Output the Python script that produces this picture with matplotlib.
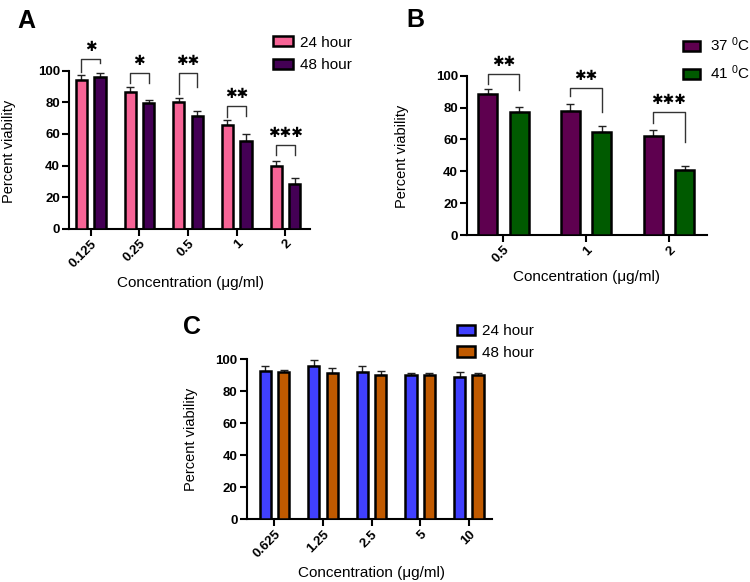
import numpy as np
import matplotlib
matplotlib.use('Agg')
import matplotlib.pyplot as plt

plt.rcParams['font.family'] = ['Liberation Sans', 'DejaVu Sans']
plt.rcParams['mathtext.fontset'] = 'custom'
plt.rcParams['mathtext.rm'] = 'Liberation Sans'

# panel A: 24 h vs 48 h
conc_a = ['0.125', '0.25', '0.5', '1', '2']
a_24h = [93.9, 86.7, 80.2, 65.6, 39.5]
a_24h_err = [3.2, 2.8, 2.7, 3.0, 3.1]
a_48h = [96.0, 79.6, 71.5, 55.3, 28.3]
a_48h_err = [2.7, 1.7, 3.0, 4.6, 3.6]
sig_a = ['*', '*', '**', '**', '***']
brk_top_a = [107.4, 98.7, 98.7, 77.7, 53.0]
brk_left_a = [99.4, 92.4, 85.1, 70.5, 46.6]
brk_right_a = [104.7, 92.4, 89.5, 71.3, 46.6]

# panel B: 37 C vs 41 C
conc_b = ['0.5', '1', '2']
b_37 = [88.7, 78.1, 62.2]
b_37_err = [2.7, 4.1, 3.4]
b_41 = [77.2, 64.7, 40.5]
b_41_err = [3.1, 4.0, 3.1]
sig_b = ['**', '**', '***']
brk_top_b = [101.2, 92.3, 77.2]
brk_left_b = [95.0, 87.0, 70.0]
brk_right_b = [91.2, 77.2, 58.2]

# panel C: 24 h vs 48 h
conc_c = ['0.625', '1.25', '2.5', '5', '10']
c_24h = [92.3, 95.4, 91.7, 89.8, 88.9]
c_24h_err = [3.1, 4.2, 4.1, 1.2, 3.0]
c_48h = [91.9, 91.5, 90.2, 90.0, 89.8]
c_48h_err = [1.4, 3.1, 2.1, 1.0, 1.7]

OFF = 0.19
W = 0.23


def panel(ax, cats, v1, e1, v2, e2, col1, col2, lab1, lab2, xlim):
    x = np.arange(len(cats))
    ax.bar(x - OFF, v1, W, color=col1, edgecolor='black', linewidth=1.8, label=lab1, zorder=3)
    ax.bar(x + OFF, v2, W, color=col2, edgecolor='black', linewidth=1.8, label=lab2, zorder=3)
    ax.errorbar(x - OFF, v1, yerr=[np.zeros(len(cats)), e1], fmt='none', ecolor='#222222',
                elinewidth=1, capsize=2.7, capthick=1, zorder=2)
    ax.errorbar(x + OFF, v2, yerr=[np.zeros(len(cats)), e2], fmt='none', ecolor='#222222',
                elinewidth=1, capsize=2.7, capthick=1, zorder=2)
    ax.set_xlim(*xlim)
    ax.set_ylim(0, 100)
    ax.set_yticks(range(0, 101, 20))
    ax.set_xticks(x, cats, rotation=45, ha='right', rotation_mode='anchor')
    for s in ['top', 'right']:
        ax.spines[s].set_visible(False)
    for s in ['left', 'bottom']:
        ax.spines[s].set_linewidth(1.5)
    ax.tick_params(axis='both', length=5, width=1.5, labelsize=9.5, pad=1.5)
    for t in ax.get_xticklabels() + ax.get_yticklabels():
        t.set_fontweight('bold')


def brackets(ax, sig, top, left, right):
    for i, s in enumerate(sig):
        x0, x1 = i - OFF, i + OFF
        ax.plot([x0, x0, x1, x1], [left[i], top[i], top[i], right[i]],
                color='#333333', lw=1, clip_on=False, zorder=4)
        ax.text(i, top[i] + 7.5, '\u2731' * len(s), family='DejaVu Sans', fontsize=10,
                ha='center', va='center', clip_on=False)


fig = plt.figure(figsize=(7.5, 5.82), dpi=100)
axA = fig.add_axes([0.092, 0.607, 0.321, 0.2715])
axB = fig.add_axes([0.6227, 0.5962, 0.32, 0.2738])
axC = fig.add_axes([0.3289, 0.1082, 0.3267, 0.2749])

panel(axA, conc_a, a_24h, a_24h_err, a_48h, a_48h_err, '#F76496', '#440055',
      '24 hour', '48 hour', (-0.445, 4.5))
brackets(axA, sig_a, brk_top_a, brk_left_a, brk_right_a)
axA.legend(loc='upper left', bbox_to_anchor=(0.364, 0.9387), bbox_transform=fig.transFigure,
           frameon=False, fontsize=11, handlelength=1.3, handleheight=0.65,
           handletextpad=0.45, labelspacing=0.57, borderpad=0, borderaxespad=0)

panel(axB, conc_b, b_37, b_37_err, b_41, b_41_err, '#5E004F', '#005A00',
      '37 $\\mathregular{^0}$C', '41 $\\mathregular{^0}$C', (-0.44, 2.46))
brackets(axB, sig_b, brk_top_b, brk_left_b, brk_right_b)
axB.legend(loc='upper left', bbox_to_anchor=(0.911, 0.9387), bbox_transform=fig.transFigure,
           frameon=False, fontsize=11, handlelength=1.1, handleheight=0.65,
           handletextpad=0.65, labelspacing=0.6, borderpad=0, borderaxespad=0)

panel(axC, conc_c, c_24h, c_24h_err, c_48h, c_48h_err, '#4040FF', '#C05A00',
      '24 hour', '48 hour', (-0.57, 4.47))
axC.legend(loc='upper left', bbox_to_anchor=(0.609, 0.4433), bbox_transform=fig.transFigure,
           frameon=False, fontsize=11, handlelength=1.2, handleheight=0.65,
           handletextpad=0.45, labelspacing=0.52, borderpad=0, borderaxespad=0)

# axis titles
fig.text(9 / 750, 1 - 151 / 582, 'Percent viability', rotation=90, fontsize=10.5, ha='center', va='center')
fig.text(402.5 / 750, 1 - 156 / 582, 'Percent viability', rotation=90, fontsize=10.5, ha='center', va='center')
fig.text(191 / 750, 1 - 439.5 / 582, 'Percent viability', rotation=90, fontsize=10.5, ha='center', va='center')
fig.text(190 / 750, 1 - 282.5 / 582, 'Concentration (\u03bcg/ml)', fontsize=11, ha='center', va='center')
fig.text(586.7 / 750, 1 - 276.5 / 582, 'Concentration (\u03bcg/ml)', fontsize=11, ha='center', va='center')
fig.text(372 / 750, 1 - 572.5 / 582, 'Concentration (\u03bcg/ml)', fontsize=11, ha='center', va='center')

# panel letters
fig.text(17 / 750, 1 - 28 / 582, 'A', fontsize=18, fontweight='bold', va='baseline')
fig.text(406 / 750, 1 - 26.7 / 582, 'B', fontsize=18, fontweight='bold', va='baseline')
fig.text(183 / 750, 1 - 334.5 / 582, 'C', fontsize=18, fontweight='bold', va='baseline')

fig.savefig('out.png', dpi=100)
